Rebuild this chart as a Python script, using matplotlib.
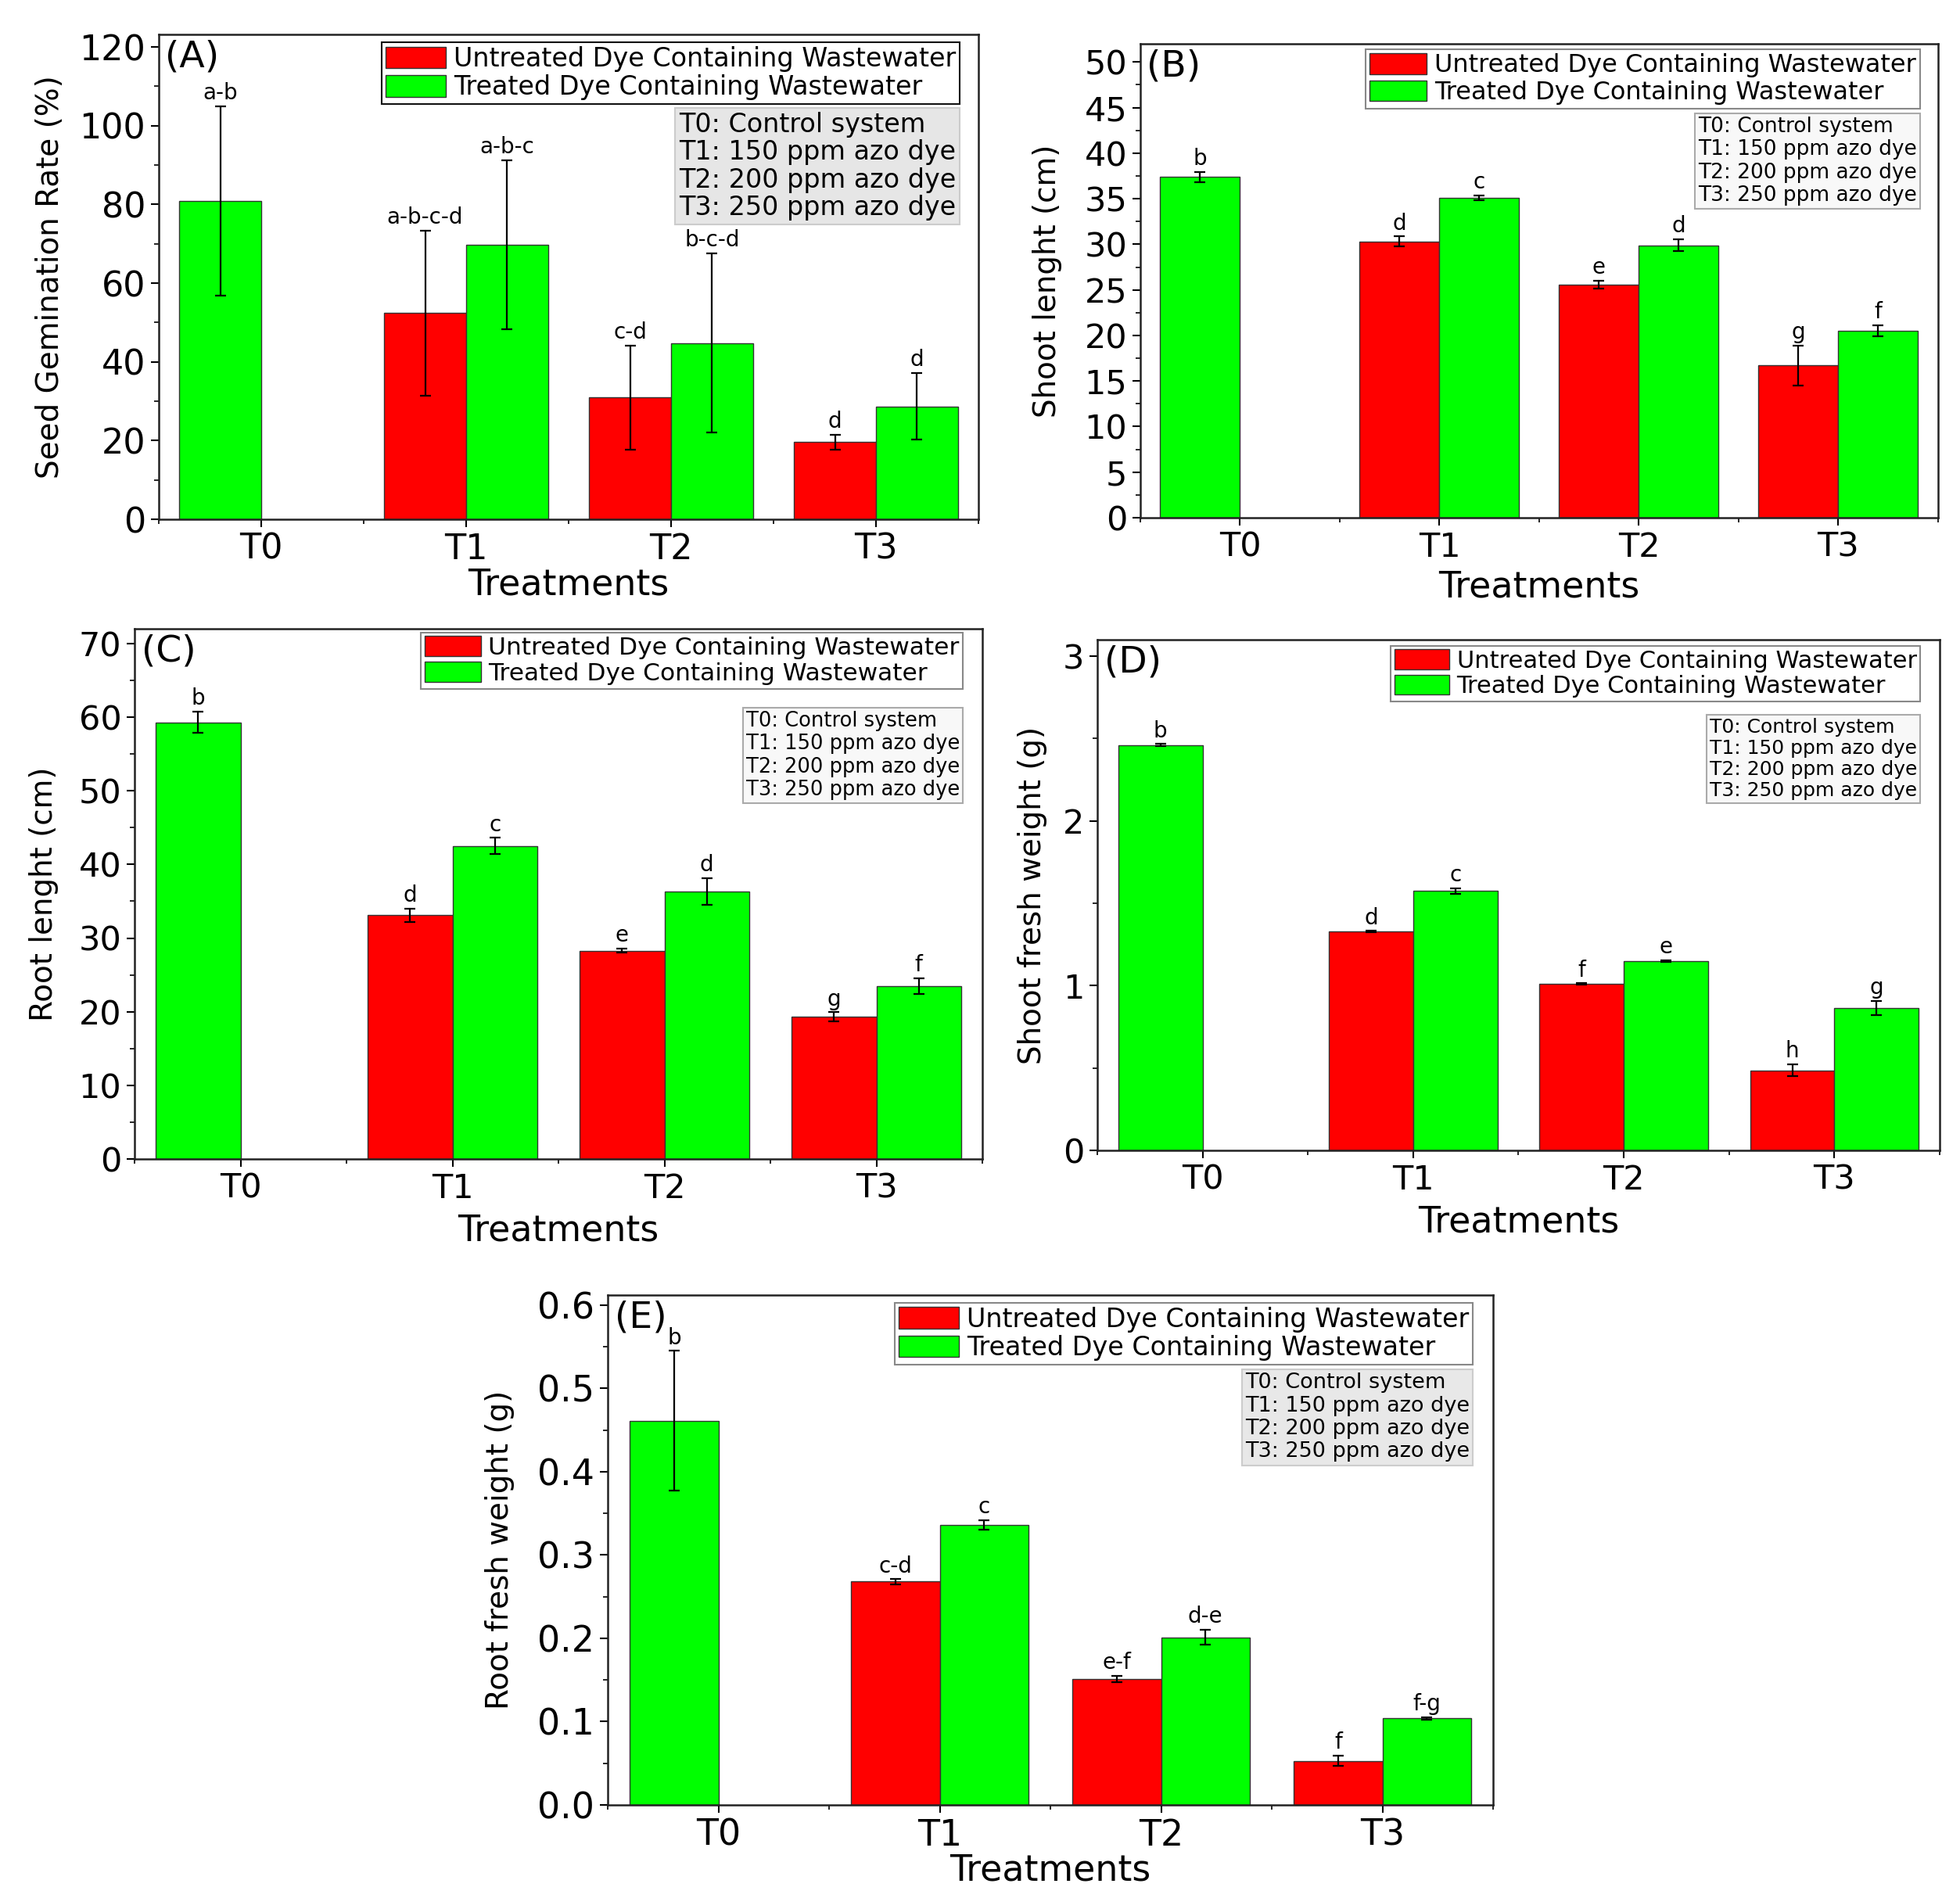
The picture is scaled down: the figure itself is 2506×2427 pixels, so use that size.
import numpy as np
import matplotlib
matplotlib.use("Agg")
import matplotlib.pyplot as plt
from matplotlib.ticker import MultipleLocator, FormatStrFormatter, FixedLocator
from matplotlib.offsetbox import AnchoredText

plt.rcParams['font.family'] = ['DejaVu Sans']

# --- data ---
categories = ['T0', 'T1', 'T2', 'T3']
series_names = ['Untreated Dye Containing Wastewater', 'Treated Dye Containing Wastewater']
treatment_notes = ['T0: Control system', 'T1: 150 ppm azo dye',
                   'T2: 200 ppm azo dye', 'T3: 250 ppm azo dye']

# (A) seed germination rate (%)
germ_untreated = [np.nan, 52.4, 30.9, 19.6]
germ_untreated_err = [np.nan, 21.0, 13.3, 1.9]
germ_treated = [80.9, 69.8, 44.8, 28.7]
germ_treated_err = [24.0, 21.5, 22.8, 8.5]
germ_untreated_letters = ['', 'a-b-c-d', 'c-d', 'd']
germ_treated_letters = ['a-b', 'a-b-c', 'b-c-d', 'd']

# (B) shoot length (cm)
shoot_untreated = [np.nan, 30.3, 25.6, 16.7]
shoot_untreated_err = [np.nan, 0.55, 0.43, 2.2]
shoot_treated = [37.4, 35.1, 29.9, 20.5]
shoot_treated_err = [0.55, 0.25, 0.65, 0.6]
shoot_untreated_letters = ['', 'd', 'e', 'g']
shoot_treated_letters = ['b', 'c', 'd', 'f']

# (C) root length (cm)
root_untreated = [np.nan, 33.1, 28.3, 19.3]
root_untreated_err = [np.nan, 0.93, 0.3, 0.62]
root_treated = [59.3, 42.5, 36.3, 23.5]
root_treated_err = [1.46, 1.1, 1.8, 1.04]
root_untreated_letters = ['', 'd', 'e', 'g']
root_treated_letters = ['b', 'c', 'd', 'f']

# (D) shoot fresh weight (g)
sfw_untreated = [np.nan, 1.328, 1.010, 0.486]
sfw_untreated_err = [np.nan, 0.004, 0.004, 0.036]
sfw_treated = [2.461, 1.574, 1.150, 0.865]
sfw_treated_err = [0.006, 0.016, 0.005, 0.044]
sfw_untreated_letters = ['', 'd', 'f', 'h']
sfw_treated_letters = ['b', 'c', 'e', 'g']

# (E) root fresh weight (g)
rfw_untreated = [np.nan, 0.268, 0.151, 0.053]
rfw_untreated_err = [np.nan, 0.003, 0.004, 0.006]
rfw_treated = [0.461, 0.336, 0.201, 0.104]
rfw_treated_err = [0.084, 0.006, 0.009, 0.0015]
rfw_untreated_letters = ['', 'c-d', 'e-f', 'f']
rfw_treated_letters = ['b', 'c', 'd-e', 'f-g']

RED = '#ff0000'
GREEN = '#00ff00'
W, H = 2506, 2427

fig = plt.figure(figsize=(W / 100, H / 100), dpi=100)


def add_axes_px(l, r, t, b):
    return fig.add_axes([l / W, 1 - b / H, (r - l) / W, (b - t) / H])


def draw_panel(ax, tag, untreated, untreated_err, treated, treated_err,
               u_letters, t_letters, ylabel, ytop, major, minor, fmt,
               ylab_x, xlab_y, tick_fs, leg_fs, note_fs, note_ls, leg_y, note_y,
               note_face, note_edge, leg_edge):
    x = np.arange(len(categories))
    u = np.array(untreated, dtype=float)
    ue = np.array(untreated_err, dtype=float)
    t = np.array(treated, dtype=float)
    te = np.array(treated_err, dtype=float)
    has_u = ~np.isnan(u)
    xu = x[has_u] - 0.2
    # control group only has the treated bar, drawn in the first slot
    xt = np.where(has_u, x + 0.2, x - 0.2)

    bu = ax.bar(xu, u[has_u], width=0.4, color=RED, edgecolor='#333333',
                linewidth=1.0, label=series_names[0], zorder=2)
    bt = ax.bar(xt, t, width=0.4, color=GREEN, edgecolor='#333333',
                linewidth=1.0, label=series_names[1], zorder=2)
    ax.errorbar(xu, u[has_u], yerr=ue[has_u], fmt='none', ecolor='black',
                elinewidth=1.6, capsize=5, capthick=1.6, zorder=3)
    ax.errorbar(xt, t, yerr=te, fmt='none', ecolor='black',
                elinewidth=1.6, capsize=5, capthick=1.6, zorder=3)

    letters_u = [l for l, h in zip(u_letters, has_u) if h]
    for xi, yi, ei, lab in zip(xu, u[has_u], ue[has_u], letters_u):
        ax.annotate(lab, (xi, yi + ei), xytext=(0, 2), textcoords='offset points',
                    ha='center', va='bottom', fontsize=20)
    for xi, yi, ei, lab in zip(xt, t, te, t_letters):
        ax.annotate(lab, (xi, yi + ei), xytext=(0, 2), textcoords='offset points',
                    ha='center', va='bottom', fontsize=20, zorder=4)

    ax.set_xlim(-0.5, 3.5)
    ax.set_ylim(0, ytop)
    ax.set_xticks(x)
    ax.set_xticklabels(categories)
    ax.xaxis.set_minor_locator(FixedLocator([-0.5, 0.5, 1.5, 2.5, 3.5]))
    ax.yaxis.set_major_locator(MultipleLocator(major))
    ax.yaxis.set_minor_locator(MultipleLocator(minor))
    if fmt:
        ax.yaxis.set_major_formatter(FormatStrFormatter(fmt))
    ax.tick_params(which='major', direction='out', length=7, width=1.5,
                   labelsize=tick_fs, pad=5)
    ax.tick_params(which='minor', direction='out', length=4, width=1.2)
    for sp in ax.spines.values():
        sp.set_linewidth(1.8)
        sp.set_color('#222222')

    ax.set_ylabel(ylabel, fontsize=28, va='center')
    ax.yaxis.set_label_coords(ylab_x, 0.5)
    ax.set_xlabel('Treatments', fontsize=33, va='center')
    ax.xaxis.set_label_coords(0.5, xlab_y)

    ax.text(0.008, 0.99, tag, transform=ax.transAxes, ha='left', va='top',
            fontsize=34)

    leg = ax.legend(handles=[bu, bt], loc='upper right', bbox_to_anchor=(0.977, leg_y),
                    fontsize=leg_fs, frameon=True, fancybox=False, borderaxespad=0,
                    borderpad=0.15, labelspacing=0.1, handlelength=2.3,
                    handleheight=0.9, handletextpad=0.3)
    leg.get_frame().set_edgecolor(leg_edge)
    leg.get_frame().set_linewidth(1.5)
    leg.get_frame().set_alpha(1)

    note = AnchoredText('\n'.join(treatment_notes), loc='upper right',
                        bbox_to_anchor=(0.977, note_y), bbox_transform=ax.transAxes,
                        borderpad=0, pad=0.15, frameon=True,
                        prop=dict(size=note_fs, linespacing=note_ls))
    note.patch.set_facecolor(note_face)
    note.patch.set_edgecolor(note_edge)
    note.patch.set_linewidth(1.5)
    note.set_zorder(3)
    ax.add_artist(note)


axA = add_axes_px(203, 1251, 44, 664)
draw_panel(axA, '(A)', germ_untreated, germ_untreated_err, germ_treated, germ_treated_err,
           germ_untreated_letters, germ_treated_letters, 'Seed Gemination Rate (%)',
           123.2, 20, 10, None, -0.133, -0.135, 32, 24, 24, 1.1, 0.984, 0.849,
           '#e6e6e6', '#cccccc', '#111111')

axB = add_axes_px(1458, 2478, 56, 662)
draw_panel(axB, '(B)', shoot_untreated, shoot_untreated_err, shoot_treated, shoot_treated_err,
           shoot_untreated_letters, shoot_treated_letters, 'Shoot lenght (cm)',
           52.0, 5, 2.5, None, -0.117, -0.147, 31, 23, 19, 1.17, 0.988, 0.853,
           '#f8f8f8', '#aaaaaa', '#888888')

axC = add_axes_px(172, 1256, 804, 1482)
draw_panel(axC, '(C)', root_untreated, root_untreated_err, root_treated, root_treated_err,
           root_untreated_letters, root_treated_letters, 'Root lenght (cm)',
           72.0, 10, 5, None, -0.107, -0.135, 31, 22.5, 18.5, 1.17, 0.993, 0.851,
           '#f8f8f8', '#aaaaaa', '#888888')

axD = add_axes_px(1403, 2480, 818, 1471)
draw_panel(axD, '(D)', sfw_untreated, sfw_untreated_err, sfw_treated, sfw_treated_err,
           sfw_untreated_letters, sfw_treated_letters, 'Shoot fresh weight (g)',
           3.10, 1, 0.5, None, -0.077, -0.141, 31, 22, 18, 1.17, 0.988, 0.853,
           '#f8f8f8', '#aaaaaa', '#888888')

axE = add_axes_px(777, 1909, 1656, 2308)
draw_panel(axE, '(E)', rfw_untreated, rfw_untreated_err, rfw_treated, rfw_treated_err,
           rfw_untreated_letters, rfw_treated_letters, 'Root fresh weight (g)',
           0.612, 0.1, 0.05, '%.1f', -0.122, -0.129, 33, 24, 19.5, 1.17, 0.985, 0.854,
           '#e8e8e8', '#cccccc', '#888888')

fig.savefig('out.png', dpi=100)
